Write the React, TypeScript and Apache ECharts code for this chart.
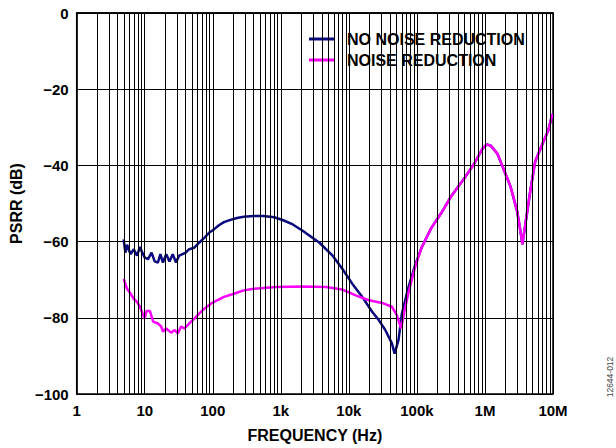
import React, { useEffect, useRef } from "react";
import * as echarts from "echarts";

const FONT = "'Liberation Sans', Arial, Helvetica, sans-serif";

const X_TICK_LABELS = ["1", "10", "100", "1k", "10k", "100k", "1M", "10M"];
const Y_TICK_LABELS: Record<string, string> = {
  "0": "0",
  "-20": "\u221220",
  "-40": "\u221240",
  "-60": "\u221260",
  "-80": "\u221280",
  "-100": "\u2212100",
};

const SERIES_NAMES = ["NO NOISE REDUCTION", "NOISE REDUCTION"];

// No noise reduction (navy): low-frequency part
const NAVY_FREQ = [
  4.9, 5.2, 5.5, 5.8, 6.2, 6.9, 7.7, 8.5, 9.0, 10, 11.2, 12.6, 14, 15.6, 17, 18.5,
  20.7, 23.1, 25.8, 28.8, 32, 36, 40, 45, 53.5, 63, 75, 88, 104, 123, 146, 182,
  227, 285, 400, 556, 800, 1084, 1500, 2117, 3700, 5770, 8060, 11270, 15700,
  22000, 27500, 34300, 42900, 47000, 53700, 60000, 75000, 93600,
];
const NAVY_DB = [
  -59.4, -62.9, -60.8, -62.0, -63.3, -62.0, -63.7, -61.4, -62.5, -64.2, -64.6, -62.9,
  -65.2, -65.5, -63.3, -65.5, -63.3, -65.2, -63.3, -65.5, -63.7, -63.3, -62.9, -62.0,
  -61.6, -60.3, -59.0, -57.7, -56.8, -55.7, -54.9, -54.3, -53.8, -53.5, -53.3, -53.3,
  -53.6, -54.4, -55.5, -57.2, -60.3, -63.7, -67.2, -71.1, -74.5, -78.4, -80.6, -83.2,
  -86.7, -89.4, -85.8, -79.0, -72.0, -66.3,
];

// Noise reduction (magenta): low-frequency part
const PINK_FREQ = [
  4.9, 5.5, 6.2, 6.9, 7.7, 8.5, 9.5, 10, 10.6, 11.9, 13.3, 15.6, 17.5, 18.5, 20.7,
  24.4, 27.4, 30.6, 34.2, 38.3, 45, 53.5, 63, 75, 94, 116, 146, 204, 285, 398, 867,
  2000, 4620, 8060, 12600, 19700, 30700, 42900, 50700, 58600, 66000, 75000, 93600,
];
const PINK_DB = [
  -69.8, -72.4, -73.7, -75.0, -75.8, -77.1, -79.3, -80.2, -78.2, -78.2, -81.0, -81.5,
  -82.3, -83.6, -82.8, -83.9, -83.2, -84.1, -82.3, -82.8, -81.5, -80.2, -78.9, -77.6,
  -76.3, -75.4, -74.5, -73.7, -72.8, -72.4, -71.9, -71.8, -71.9, -72.6, -74.1, -75.4,
  -76.1, -77.1, -79.3, -82.8, -78.0, -73.5, -66.8,
];

// High-frequency part, common to both curves
const HF_FREQ = [
  117000, 163000, 228000, 319000, 498000, 697000, 921000, 1064000, 1217000, 1520000,
  1900000, 2370000, 2970000, 3320000, 3550000, 3920000, 4630000, 5470000, 6840000,
  8550000, 9770000,
];
const HF_DB = [
  -61.6, -56.4, -52.5, -48.1, -43.4, -39.5, -35.6, -34.5, -34.8, -36.9, -41.2, -45.5,
  -52.0, -57.2, -60.7, -55.5, -46.8, -39.0, -34.8, -30.8, -26.5,
];

const NAVY = "#0a0a80";
const PINK = "#ff00ff";

function zip(f: number[], v: number[]) {
  return f.map((x, i) => [x, v[i]]);
}

export default function App() {
  const ref = useRef<HTMLDivElement>(null);
  useEffect(() => {
    const chart = echarts.init(ref.current!, null, { renderer: "svg" });
    const gridX: { xAxis: number }[] = [];
    for (let k = 0; k < 7; k++) {
      for (let m = 1; m <= 9; m++) gridX.push({ xAxis: m * Math.pow(10, k) });
    }
    gridX.push({ xAxis: 1e7 });
    const navyData = zip(NAVY_FREQ, NAVY_DB).concat(zip(HF_FREQ, HF_DB));
    const pinkData = zip(PINK_FREQ, PINK_DB).concat(zip(HF_FREQ, HF_DB));
    chart.setOption({
      animation: false,
      grid: {
        left: 71,
        right: 63,
        top: 13,
        bottom: 50,
        show: true,
        borderColor: "#000",
        borderWidth: 1.5,
        backgroundColor: "#fff",
      },
      xAxis: {
        type: "log",
        logBase: 10,
        min: 1,
        max: 1e7,
        interval: 1,
        name: "FREQUENCY (Hz)",
        nameLocation: "middle",
        nameGap: 33,
        nameTextStyle: { fontFamily: FONT, fontWeight: "bold", fontSize: 16, color: "#000" },
        axisLine: { show: true, lineStyle: { color: "#000", width: 1.5 } },
        axisTick: { show: false },
        splitLine: { show: false },
        minorTick: { show: false },
        axisLabel: {
          margin: 9,
          fontFamily: FONT,
          fontWeight: "bold",
          fontSize: 15,
          color: "#000",
          formatter: (v: number) => X_TICK_LABELS[Math.round(Math.log10(v))] ?? "",
        },
      },
      yAxis: {
        type: "value",
        min: -100,
        max: 0,
        interval: 20,
        name: "PSRR (dB)",
        nameLocation: "middle",
        nameGap: 30,
        nameTextStyle: { fontFamily: FONT, fontWeight: "bold", fontSize: 16, color: "#000" },
        axisLine: { show: true, lineStyle: { color: "#000", width: 1.5 } },
        axisTick: { show: false },
        splitLine: { show: true, lineStyle: { color: "#000", width: 1 } },
        axisLabel: {
          margin: 8,
          fontFamily: FONT,
          fontWeight: "bold",
          fontSize: 15,
          color: "#000",
          formatter: (v: number) => Y_TICK_LABELS[String(v)] ?? String(v),
        },
      },
      legend: {
        data: SERIES_NAMES,
        orient: "vertical",
        left: 285,
        top: 22,
        backgroundColor: "#fff",
        padding: [9, 15, 12, 24],
        itemWidth: 26,
        itemHeight: 3,
        itemGap: 5,
        icon: "rect",
        selectedMode: false,
        textStyle: {
          fontFamily: FONT,
          fontWeight: "bold",
          fontSize: 16,
          color: "#000",
          lineHeight: 15,
          padding: [0, 0, 0, 7],
        },
      },
      graphic: [
        {
          type: "text",
          x: 610,
          y: 377,
          rotation: Math.PI / 2,
          style: {
            text: "12644-012",
            fontFamily: FONT,
            fontSize: 8.5,
            fill: "#444",
            align: "center",
            verticalAlign: "middle",
          },
        },
      ],
      series: [
        {
          type: "line",
          name: "gridlines",
          data: [],
          z: 1,
          silent: true,
          markLine: {
            silent: true,
            symbol: ["none", "none"],
            label: { show: false },
            lineStyle: { color: "#000", width: 1, type: "solid" },
            emphasis: { disabled: true },
            data: gridX,
          },
        },
        {
          type: "line",
          name: SERIES_NAMES[0],
          data: navyData,
          color: NAVY,
          showSymbol: false,
          symbol: "none",
          z: 3,
          lineStyle: { color: NAVY, width: 2.5 },
        },
        {
          type: "line",
          name: SERIES_NAMES[1],
          data: pinkData,
          color: PINK,
          showSymbol: false,
          symbol: "none",
          z: 4,
          lineStyle: { color: PINK, width: 2.5 },
        },
      ],
    });
    return () => chart.dispose();
  }, []);
  return (
    <div
      ref={ref}
      style={{ position: "fixed", left: 0, top: 0, width: 616, height: 448, background: "#fff" }}
    />
  );
}
